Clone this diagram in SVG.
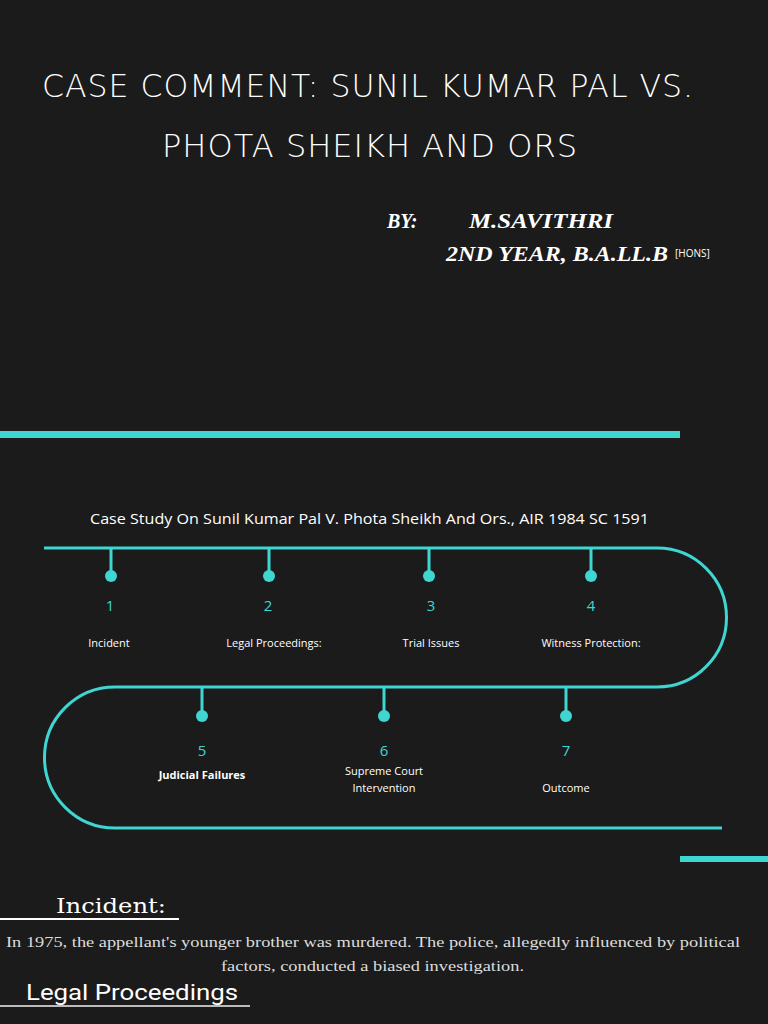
<svg xmlns="http://www.w3.org/2000/svg" width="768" height="1024" viewBox="0 0 768 1024">
<style>
.t{fill:#3fd6d2}
.ln{stroke:#3fd6d2;stroke-width:3;fill:none}
.lab{font-family:"Open Sans",sans-serif;font-size:11px;fill:#fff;text-anchor:middle}
.num{font-family:"Open Sans",sans-serif;font-size:15px;fill:#3fd6d2;text-anchor:middle}
.title{font-family:"DejaVu Sans",sans-serif;font-size:32px;font-weight:300;fill:#fff;letter-spacing:1px}
.scr{font-family:"Liberation Serif",serif;font-style:italic;font-weight:bold;font-size:20px;fill:#fff}
</style>
<rect width="768" height="1024" fill="#1b1b1b"/>
<text class="title" x="42" y="97" textLength="652" lengthAdjust="spacingAndGlyphs">CASE COMMENT: SUNIL KUMAR PAL VS.</text>
<text class="title" x="162" y="157" textLength="416" lengthAdjust="spacingAndGlyphs">PHOTA SHEIKH AND ORS</text>
<text class="scr" x="387" y="228">BY:</text>
<text class="scr" x="469" y="228" textLength="144" lengthAdjust="spacingAndGlyphs">M.SAVITHRI</text>
<text class="scr" x="446" y="261" textLength="222" lengthAdjust="spacingAndGlyphs">2ND YEAR, B.A.LL.B</text>
<text x="675" y="257" font-family="Open Sans,sans-serif" font-size="10" fill="#fff">[HONS]</text>
<rect class="t" x="0" y="431" width="680" height="7"/>
<rect class="t" x="680" y="856" width="88" height="6"/>
<text x="90" y="524" font-family="Open Sans,sans-serif" font-size="14" fill="#fff" textLength="559" lengthAdjust="spacingAndGlyphs">Case Study On Sunil Kumar Pal V. Phota Sheikh And Ors., AIR 1984 SC 1591</text>
<g id="connectors">
<path class="ln" d="M44 548 H657 A69.5 69.5 0 0 1 657 687 H115 A70.5 70.5 0 0 0 115 828 H722"/>
</g>
<g id="n1"><path class="ln" d="M111 548V576"/><circle class="t" cx="111" cy="576" r="6"/><text class="num" x="110" y="611">1</text><text class="lab" x="109" y="647">Incident</text></g>
<g id="n2"><path class="ln" d="M269 548V576"/><circle class="t" cx="269" cy="576" r="6"/><text class="num" x="268" y="611">2</text><text class="lab" x="274" y="647">Legal Proceedings:</text></g>
<g id="n3"><path class="ln" d="M429 548V576"/><circle class="t" cx="429" cy="576" r="6"/><text class="num" x="431" y="611">3</text><text class="lab" x="431" y="647">Trial Issues</text></g>
<g id="n4"><path class="ln" d="M591 548V576"/><circle class="t" cx="591" cy="576" r="6"/><text class="num" x="591" y="611">4</text><text class="lab" x="591" y="647">Witness Protection:</text></g>
<g id="n5"><path class="ln" d="M202 687V716"/><circle class="t" cx="202" cy="716" r="6"/><text class="num" x="202" y="756">5</text><text class="lab" x="202" y="779" font-weight="bold">Judicial Failures</text></g>
<g id="n6"><path class="ln" d="M384 687V716"/><circle class="t" cx="384" cy="716" r="6"/><text class="num" x="384" y="756">6</text><text class="lab" x="384" y="775">Supreme Court</text><text class="lab" x="384" y="792">Intervention</text></g>
<g id="n7"><path class="ln" d="M566 687V716"/><circle class="t" cx="566" cy="716" r="6"/><text class="num" x="566" y="756">7</text><text class="lab" x="566" y="792">Outcome</text></g>
<text x="56" y="913" font-family="DejaVu Serif,serif" font-size="21" fill="#fff" textLength="110" lengthAdjust="spacingAndGlyphs">Incident:</text>
<rect x="0" y="918" width="179" height="2" fill="#fff"/>
<text x="6" y="947" font-family="Liberation Serif,serif" font-size="15" fill="#ddd" textLength="734" lengthAdjust="spacingAndGlyphs">In 1975, the appellant's younger brother was murdered. The police, allegedly influenced by political</text>
<text x="221" y="971" font-family="Liberation Serif,serif" font-size="15" fill="#ddd" textLength="303" lengthAdjust="spacingAndGlyphs">factors, conducted a biased investigation.</text>
<text x="26" y="1000" font-family="Roboto,sans-serif" font-size="22" fill="#fff" textLength="212" lengthAdjust="spacingAndGlyphs">Legal Proceedings</text>
<rect x="0" y="1005" width="250" height="2" fill="#bbb"/>
</svg>
